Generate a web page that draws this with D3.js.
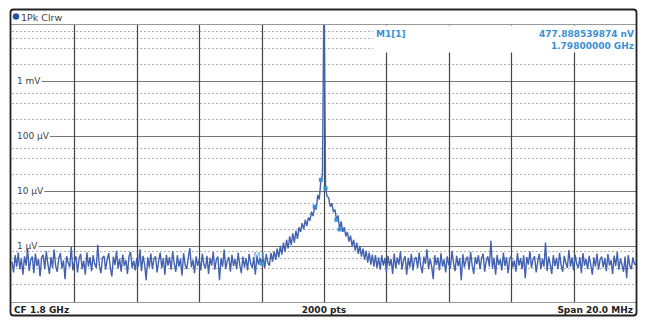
<!DOCTYPE html>
<html>
<head>
<meta charset="utf-8">
<script src="https://cdn.jsdelivr.net/npm/d3@7"></script>
<style>
body{margin:0;background:#fff}
text{font-family:"DejaVu Sans",Verdana,sans-serif}
</style>
</head>
<body>
<div id="chart"></div>
<script>
// trace 1 : 401 pts, level in nV, 50 kHz apart from 1790 MHz
var levels = [
 520,330,680,420,760,380,590,300,650,440,900,350,560,640,320,730,430,580,280,620,
 690,380,800,470,310,630,400,860,430,340,600,740,390,550,250,660,500,410,960,360,
 520,650,330,590,720,380,540,300,770,420,630,350,680,470,400,1050,440,320,610,660,
 370,570,740,410,280,640,450,820,390,590,340,700,430,560,310,650,780,400,540,360,
 610,420,870,350,660,470,240,620,410,730,380,580,650,330,530,760,400,600,300,690,
 440,630,370,800,480,340,680,420,590,290,740,450,380,620,920,410,560,320,650,430,
 580,360,720,460,390,660,310,610,440,780,370,570,640,240,600,420,860,380,540,630,
 340,690,430,580,380,750,450,320,640,410,600,360,720,480,400,630,300,670,460,610,
 478,640,400,710,500,440,750,520,800,560,900,620,1000,700,1150,780,1300,900,1500,1050,
 1700,1150,1900,1350,2200,1800,2600,2000,3000,2300,3300,2900,4200,3500,5200,4600,8500,7000,16000,19000,
 50000000,
 11200,8000,7500,5200,6000,4200,4600,3000,3600,2000,2800,1800,2200,1500,1800,1200,1550,1000,1300,
 820,1150,720,1000,640,900,560,820,500,760,460,700,420,680,400,620,370,680,440,600,
 340,660,430,580,310,730,390,620,460,800,370,560,650,300,610,410,720,360,570,630,
 400,760,440,320,640,470,870,380,590,430,250,680,450,620,360,740,420,570,330,650,
 460,390,820,500,350,660,430,600,240,710,410,560,640,370,780,440,310,630,470,680,
 380,590,730,340,540,650,420,1250,390,610,300,690,450,570,360,760,430,630,320,580,
 660,410,550,340,740,440,600,380,680,260,630,460,800,400,570,650,330,520,720,380,
 590,420,1150,350,640,470,310,680,430,610,380,750,450,340,660,490,400,840,420,620,
 360,690,470,400,630,320,740,440,580,380,660,460,300,620,420,730,370,570,640,410,
 600,350,710,440,560,310,670,430,780,370,590,460,340,640,260,680,440,380,620,470,460
];
var startMHz = 1790, stepMHz = 0.05, spanMHz = 20;

var decadeVals = [1e-3, 1e-4, 1e-5, 1e-6];
var decadeLabels = ["1 mV", "100 µV", "10 µV", "1 µV"];
var dashVals = [8e-3, 6e-3, 4e-3, 2e-3, 6e-4, 4e-4, 2e-4, 6e-5, 4e-5, 2e-5,
                6e-6, 4e-6, 2e-6, 8e-7, 6e-7, 4e-7, 2e-7];

var markerIdx = [160, 194, 198, 201, 208, 210];
var markerNames = ["M1", "", "", "", "", ""];

var W = 647, H = 333;
var L = 12, R = 636, T = 25, B = 302;

var svg = d3.select("#chart").append("svg").attr("width", W).attr("height", H);

var x = d3.scaleLinear().domain([startMHz, startMHz + spanMHz]).range([L, R]);
var y = d3.scaleLog().domain([1e-2, 1e-7]).range([26, 301]);

svg.append("clipPath").attr("id", "clip")
  .append("rect").attr("x", L - 1).attr("y", T).attr("width", R - L + 1).attr("height", B - T);

// dashed grid
svg.selectAll(".dash").data(dashVals).enter().append("line")
  .attr("x1", L).attr("x2", R)
  .attr("y1", function(d){ return Math.round(y(d)) + 0.5; })
  .attr("y2", function(d){ return Math.round(y(d)) + 0.5; })
  .style("stroke", "#b0b0b0").style("stroke-width", 1).style("stroke-dasharray", "2,2");

// decade lines + labels
var dec = svg.selectAll(".dec").data(decadeVals).enter().append("g");
dec.append("text")
  .attr("x", 17).attr("y", function(d){ return y(d) + 3; })
  .style("font-size", "9px").style("fill", "#444")
  .text(function(d, i){ return decadeLabels[i]; });
dec.each(function(d, i){
  var tw = this.querySelector("text").getComputedTextLength();
  d3.select(this).append("line")
    .attr("x1", 17 + tw + 1).attr("x2", R)
    .attr("y1", Math.round(y(d)) + 0.5).attr("y2", Math.round(y(d)) + 0.5)
    .style("stroke", "#777").style("stroke-width", 1);
});

// vertical grid
var vt = d3.range(1, 10).map(function(k){ return startMHz + k * spanMHz / 10; });
svg.selectAll(".vg").data(vt).enter().append("line")
  .attr("x1", function(d){ return Math.round(x(d)) + 0.5; })
  .attr("x2", function(d){ return Math.round(x(d)) + 0.5; })
  .attr("y1", T).attr("y2", B)
  .style("stroke", "#444").style("stroke-width", 1.2);

// marker info box
svg.append("rect").attr("x", 373).attr("y", T + 0.5).attr("width", R - 373).attr("height", 27).style("fill", "#fff");

// trace
var line = d3.line()
  .x(function(d, i){ return x(startMHz + i * stepMHz); })
  .y(function(d){ return y(d * 1e-9); });
svg.append("path").datum(levels)
  .attr("clip-path", "url(#clip)")
  .attr("d", line)
  .style("fill", "none").style("stroke", "#4262b0").style("stroke-width", 1.4)
  .style("stroke-linejoin", "bevel");

// markers
markerIdx.forEach(function(idx, k){
  var mx = x(startMHz + idx * stepMHz), my = y(levels[idx] * 1e-9);
  svg.append("rect").attr("x", mx - 2).attr("y", my - 2).attr("width", 4).attr("height", 4)
    .style("fill", "#3b90d4");
  if (markerNames[k]) {
    svg.append("text").attr("x", mx - 8).attr("y", my - 5)
      .style("font-size", "8px").style("fill", "#5aa6dc").text(markerNames[k]);
  }
});

// marker readout
var mf = startMHz + markerIdx[0] * stepMHz;
svg.append("text").attr("x", 376).attr("y", 37).style("font-size", "9px").style("font-weight", "bold")
  .style("fill", "#3b90d4").text("M1[1]");
svg.append("text").attr("x", 634).attr("y", 37).attr("text-anchor", "end")
  .style("font-size", "9px").style("font-weight", "bold").style("fill", "#3b90d4")
  .text("477.888539874 nV");
svg.append("text").attr("x", 634).attr("y", 49).attr("text-anchor", "end")
  .style("font-size", "9px").style("font-weight", "bold").style("fill", "#3b90d4")
  .text((mf / 1000).toFixed(8) + " GHz");

// title bar
svg.append("line").attr("x1", 11).attr("x2", R).attr("y1", 24.5).attr("y2", 24.5)
  .style("stroke", "#999").style("stroke-width", 1);
svg.append("circle").attr("cx", 16).attr("cy", 16.5).attr("r", 3.2).style("fill", "#2b52a8");
svg.append("text").attr("x", 21).attr("y", 20.5).style("font-size", "9.5px").style("fill", "#444").text("1Pk Clrw");

// bottom bar
svg.append("line").attr("x1", 11).attr("x2", R).attr("y1", 302.5).attr("y2", 302.5)
  .style("stroke", "#999").style("stroke-width", 1);
svg.append("text").attr("x", 14).attr("y", 313).style("font-size", "9px").style("font-weight", "bold")
  .style("fill", "#222").text("CF 1.8 GHz");
svg.append("text").attr("x", 324).attr("y", 313).attr("text-anchor", "middle").style("font-size", "9px")
  .style("font-weight", "bold").style("fill", "#222").text("2000 pts");
svg.append("text").attr("x", 633).attr("y", 313).attr("text-anchor", "end").style("font-size", "9px")
  .style("font-weight", "bold").style("fill", "#222").text("Span " + spanMHz.toFixed(1) + " MHz");

// outer frame
svg.append("rect").attr("x", 10.5).attr("y", 9.5).attr("width", 626).attr("height", 306).attr("rx", 3)
  .style("fill", "none").style("stroke", "#222").style("stroke-width", 1.8);
</script>
</body>
</html>
